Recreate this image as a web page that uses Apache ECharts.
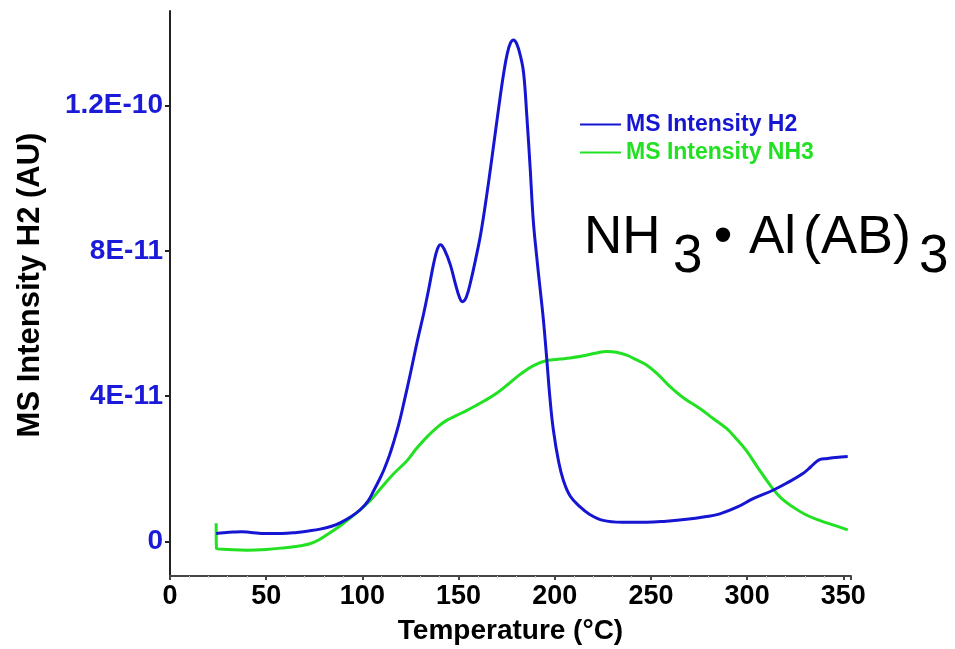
<!DOCTYPE html>
<html>
<head>
<meta charset="utf-8">
<script src="https://cdn.jsdelivr.net/npm/echarts@6/dist/echarts.min.js"></script>
<style>
html,body{margin:0;padding:0;background:#fff;}
#chart{width:955px;height:649px;}
</style>
</head>
<body>
<div id="chart"></div>
<script>
// Values in units of 1E-11 AU
const h2Temp = [24,28,33,37,42,50,58,66,72,78,84,88.7,94,99,103,106,109,111.1,114,116.3,118.9,121.5,125,128.5,131.9,134.5,137.1,139,140.6,142.5,145.7,148.3,150.6,152,154,156.5,159,161.3,164,166.5,169.1,171.7,173.5,175.2,177,178.6,180.2,182,183.8,185.5,187.2,188.8,190.5,192.3,194.1,195.9,197.5,199.3,202,204.5,208,213.2,218,225.1,235,247.7,258,268.5,278,285.8,295,303.1,313.4,321,329,333,335.9,338,341.1,346,352.3];
const h2Vals = [0.22,0.24,0.26,0.27,0.25,0.22,0.22,0.25,0.29,0.34,0.42,0.52,0.68,0.88,1.12,1.41,1.72,1.96,2.36,2.74,3.22,3.8,4.63,5.5,6.28,6.95,7.66,8.05,8.17,8.05,7.62,7.1,6.7,6.6,6.72,7.2,7.8,8.4,9.3,10.23,11.25,12.26,12.9,13.4,13.72,13.8,13.7,13.4,12.9,11.7,10.3,8.86,7.9,7.0,6.1,4.99,3.95,3.06,2.2,1.68,1.25,0.95,0.75,0.58,0.53,0.53,0.56,0.61,0.68,0.76,0.95,1.18,1.41,1.62,1.87,2.05,2.19,2.26,2.28,2.31,2.34];

const nh3Temp = [24,24.2,30,40,50,60,68,75,82,88.7,94,99,104,109.4,116,123.3,128,133.6,139,144,149,154.4,159,163,169,175.1,182,188.9,195.9,202.8,208,215,221,227,232,237.4,242,247.7,254,259.8,267,275.4,282,289.3,294,299.6,306,313.4,318,323.8,330,337.6,345,352.3];
const nh3Vals = [0.5,-0.2,-0.22,-0.24,-0.22,-0.17,-0.12,-0.02,0.2,0.44,0.66,0.88,1.12,1.45,1.85,2.23,2.55,2.88,3.15,3.34,3.47,3.61,3.74,3.86,4.05,4.3,4.6,4.84,4.98,5.02,5.05,5.11,5.18,5.23,5.21,5.13,5.01,4.86,4.58,4.27,3.95,3.66,3.4,3.11,2.85,2.5,2.0,1.45,1.18,0.95,0.75,0.58,0.45,0.32];

const xTicks = [0,50,100,150,200,250,300,350];
const yTickValues = [0,4,8,12];
const yTickLabels = ['0','4E-11','8E-11','1.2E-10'];

const seriesNames = ['MS Intensity H2','MS Intensity NH3'];
const BLUE = '#1616d2';
const GREEN = '#22e022';
const FONT = '"Liberation Sans", Arial, sans-serif';

const chart = echarts.init(document.getElementById('chart'), null, {renderer:'canvas'});
const zip = (a,b) => a.map((t,i)=>[t,b[i]]);

chart.setOption({
  animation:false,
  backgroundColor:'#fff',
  grid:{left:170,right:104,top:11,bottom:73,containLabel:false,outerBoundsMode:'none'},
  legend:{
    orient:'vertical', left:575, top:108, itemGap:5,
    icon:'rect', itemWidth:41, itemHeight:2,
    textStyle:{fontFamily:FONT,fontWeight:'bold',fontSize:23},
    data:[
      {name:seriesNames[0], textStyle:{color:BLUE}},
      {name:seriesNames[1], textStyle:{color:GREEN}}
    ]
  },
  xAxis:{
    type:'value', min:0, max:354, interval:50,
    name:'Temperature (°C)', nameLocation:'middle', nameGap:41,
    nameTextStyle:{fontFamily:FONT,fontWeight:'bold',fontSize:28,color:'#000'},
    axisLine:{show:true,onZero:false,lineStyle:{color:'#444',width:2}},
    axisTick:{show:true,length:4,lineStyle:{color:'#444',width:2}},
    minorTick:{show:true,splitNumber:5,length:2,lineStyle:{color:'#ccc'}},
    axisLabel:{fontFamily:FONT,fontWeight:'bold',fontSize:27,color:'#000',margin:7,
      formatter:v=>xTicks.includes(v)?String(v):''},
    splitLine:{show:false}
  },
  yAxis:{
    type:'value', min:-0.95, max:14.6,
    name:'MS Intensity H2 (AU)', nameLocation:'middle', nameGap:124, nameRotate:90,
    nameTextStyle:{fontFamily:FONT,fontWeight:'bold',fontSize:31,color:'#000',padding:[0,0,0,17]},
    axisLine:{show:true,onZero:false,lineStyle:{color:'#222',width:2}},
    axisTick:{show:true,length:5,customValues:yTickValues,lineStyle:{color:'#222',width:2}},
    axisLabel:{fontFamily:FONT,fontWeight:'bold',fontSize:28,color:'#1a1ad8',margin:7,
      customValues:yTickValues,
      formatter:v=>{const i=yTickValues.indexOf(Math.round(v*1000)/1000);return i>=0?yTickLabels[i]:'';}},
    splitLine:{show:false}
  },
  series:[
    {name:seriesNames[1],type:'line',data:zip(nh3Temp,nh3Vals),showSymbol:false,smooth:0.4,
     lineStyle:{color:GREEN,width:3},itemStyle:{color:GREEN},z:2},
    {name:seriesNames[0],type:'line',data:zip(h2Temp,h2Vals),showSymbol:false,smooth:0.4,
     lineStyle:{color:BLUE,width:3},itemStyle:{color:BLUE},z:3}
  ],
  graphic:[
    {type:'text',x:584,y:238,style:{text:'NH',font:'53px '+FONT,fill:'#000',verticalAlign:'middle',align:'left'}},
    {type:'text',x:673,y:257,style:{text:'3',font:'53px '+FONT,fill:'#000',verticalAlign:'middle',align:'left'}},
    {type:'text',x:723,y:238,style:{text:'•',font:'53px '+FONT,fill:'#000',verticalAlign:'middle',align:'center'}},
    {type:'text',x:749,y:238,style:{text:'Al',font:'53px '+FONT,fill:'#000',verticalAlign:'middle',align:'left'}},
    {type:'text',x:803,y:238,style:{text:'(AB)',font:'54px '+FONT,fill:'#000',verticalAlign:'middle',align:'left'}},
    {type:'text',x:919,y:257,style:{text:'3',font:'53px '+FONT,fill:'#000',verticalAlign:'middle',align:'left'}}
  ]
});
</script>
</body>
</html>
